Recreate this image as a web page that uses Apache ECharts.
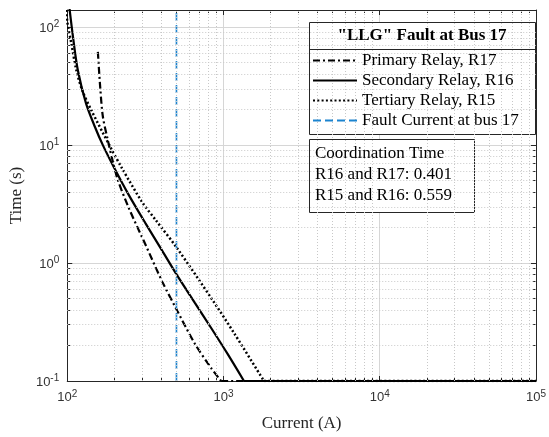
<!DOCTYPE html>
<html>
<head>
<meta charset="utf-8">
<script src="https://cdn.jsdelivr.net/npm/echarts@6/dist/echarts.min.js"></script>
<style>
  html, body { margin: 0; padding: 0; background: #fff; }
  #main { width: 549px; height: 437px; }
</style>
</head>
<body>
<div id="main"></div>
<script>
// relay curves (current in A, time in s)
var primaryCurrent   = [157, 162.5, 169, 181.6, 195.5, 210, 249, 317, 404, 498, 656, 836, 966];
var primaryTime      = [61.8, 31.1, 17.5, 11.1, 7.3, 5.14, 2.88, 1.43, 0.703, 0.41, 0.207, 0.128, 0.1];

var secondaryCurrent = [103, 109, 117, 132, 150, 169, 200, 249, 317, 404, 498, 656, 836, 1067, 1352];
var secondaryTime    = [150, 81.5, 42.9, 22.5, 14.4, 10, 6.4, 3.73, 2.17, 1.28, 0.81, 0.46, 0.28, 0.168, 0.1];

var tertiaryCurrent  = [99, 100, 106.5, 114.5, 125, 142.5, 186, 226, 302, 367, 498, 857, 1175, 1815];
var tertiaryTime     = [140, 112, 71.6, 42.9, 29, 19.8, 10, 6.24, 3.28, 2.33, 1.37, 0.479, 0.252, 0.1];

// every relay is clamped at its minimum operating time up to the end of the axis
var minTime = 0.1;
var maxCurrent = 100000;

var faultCurrent = 500;
var faultTimes   = [0.1, 140];

var seriesNames = ['Primary Relay, R17', 'Secondary Relay, R16', 'Tertiary Relay, R15', 'Fault Current at bus 17'];
var legendTitle = '"LLG" Fault at Bus 17';
var coordLabels = ['R16 and R17', 'R15 and R16'];
var coordTimes  = [0.401, 0.559];

var xRange = [100, 100000];
var yRange = [0.1, 140];

// minor grid positions (2..9 of each decade)
function minorValues(lo, hi) {
    var out = [];
    for (var e = Math.floor(Math.log10(lo)); e < Math.log10(hi); e++) {
        for (var m = 2; m <= 9; m++) {
            var v = m * Math.pow(10, e);
            if (v > lo && v < hi) out.push(v);
        }
    }
    return out;
}
var minorX = minorValues(xRange[0], xRange[1]);
var minorY = minorValues(yRange[0], yRange[1]);

function pairs(xs, ys) {
    return xs.map(function (x, i) { return [x, ys[i]]; });
}

var tickFont = 'Liberation Sans, Arial, sans-serif';
var serif = 'Liberation Serif, Times New Roman, serif';
var axisColor = '#262626';

var powRich = {
    b: { fontFamily: tickFont, fontSize: 13, color: '#333', lineHeight: 15, verticalAlign: 'bottom' },
    s: { fontFamily: tickFont, fontSize: 10, color: '#333', lineHeight: 10, verticalAlign: 'top' }
};
function powLabel(v) {
    var e = Math.log10(v);
    var r = Math.round(e);
    if (Math.abs(e - r) > 1e-6) return '';
    return '{b|10}{s|' + r + '}';
}

function mainAxis(range, pos, withLabels) {
    return {
        type: 'log', logBase: 10, min: range[0], max: range[1], position: pos,
        axisLine: { show: true, lineStyle: { color: axisColor, width: 1 } },
        axisTick: { show: true, inside: true, length: 5, lineStyle: { color: axisColor } },
        axisLabel: { show: withLabels, formatter: powLabel, rich: powRich, margin: 8 },
        splitLine: { show: withLabels, lineStyle: { color: '#d6d6d6', width: 1 } }
    };
}
function minorAxis(range, pos, values) {
    return {
        type: 'log', logBase: 10, min: range[0], max: range[1], position: pos,
        axisLine: { show: false },
        axisTick: { show: true, inside: true, length: 3, customValues: values, lineStyle: { color: axisColor } },
        axisLabel: { show: false },
        splitLine: { show: false }
    };
}

var xMain = mainAxis(xRange, 'bottom', true);
xMain.name = 'Current (A)';
xMain.nameLocation = 'middle';
xMain.nameGap = 34;
xMain.nameTextStyle = { fontFamily: serif, fontSize: 17, color: axisColor };

var yMain = mainAxis(yRange, 'left', true);
yMain.name = 'Time (s)';
yMain.nameLocation = 'middle';
yMain.nameGap = 40;
yMain.nameTextStyle = { fontFamily: serif, fontSize: 17, color: axisColor };

var styles = [
    { color: '#000', width: 2.2, type: [7, 3, 2, 3] },
    { color: '#000', width: 2.2, type: 'solid' },
    { color: '#000', width: 2.5, type: [2, 2.3] },
    { color: '#1c84cf', width: 1.6, type: [8, 4] }
];
var curves = [
    pairs(primaryCurrent, primaryTime),
    pairs(secondaryCurrent, secondaryTime),
    pairs(tertiaryCurrent, tertiaryTime)
];

var series = [{
    name: 'minor grid', type: 'line', data: [], z: 1, silent: true,
    markLine: {
        silent: true, symbol: 'none', label: { show: false }, animation: false,
        lineStyle: { color: '#c8c8c8', width: 1, type: [1, 2] },
        data: minorX.map(function (v) { return { xAxis: v }; })
              .concat(minorY.map(function (v) { return { yAxis: v }; }))
    }
}];
curves.forEach(function (pts, i) {
    // curved part
    series.push({
        name: seriesNames[i], type: 'line', symbol: 'none', smooth: 0.3, z: 3,
        data: pts, lineStyle: styles[i], itemStyle: { color: styles[i].color }
    });
    // flat part at the minimum time
    series.push({
        name: seriesNames[i], type: 'line', symbol: 'none', z: 3,
        data: [pts[pts.length - 1], [maxCurrent, minTime]],
        lineStyle: styles[i], itemStyle: { color: styles[i].color }
    });
});
series.push({
    name: seriesNames[3], type: 'line', symbol: 'none', z: 3,
    data: faultTimes.map(function (t) { return [faultCurrent, t]; }),
    lineStyle: styles[3], itemStyle: { color: styles[3].color }
});

var myChart = echarts.init(document.getElementById('main'));

var option = {
    animation: false,
    backgroundColor: '#fff',
    grid: { left: 66, right: 11, top: 10, bottom: 52, containLabel: false },
    xAxis: [xMain, mainAxis(xRange, 'top', false), minorAxis(xRange, 'bottom', minorX), minorAxis(xRange, 'top', minorX)],
    yAxis: [yMain, mainAxis(yRange, 'right', false), minorAxis(yRange, 'left', minorY), minorAxis(yRange, 'right', minorY)],
    legend: {
        data: seriesNames,
        orient: 'vertical',
        left: 312, top: 52,
        itemWidth: 44, itemHeight: 14, itemGap: 3,
        padding: 0,
        selectedMode: false,
        z: 10,
        itemStyle: { opacity: 0 },
        textStyle: { fontFamily: serif, fontSize: 17, color: '#000', lineHeight: 17 }
    },
    graphic: [
        { type: 'rect', z: 5, shape: { x: 309.5, y: 22.5, width: 226, height: 112 },
          style: { fill: '#fff', stroke: axisColor, lineWidth: 1 } },
        { type: 'line', z: 6, shape: { x1: 309.5, y1: 49.5, x2: 535.5, y2: 49.5 },
          style: { stroke: axisColor, lineWidth: 1 } },
        { type: 'text', z: 6,
          style: { text: legendTitle, x: 422, y: 36, align: 'center', verticalAlign: 'middle',
                   font: 'bold 17px ' + serif, fill: '#000' } },
        { type: 'rect', z: 5, shape: { x: 309.5, y: 139.5, width: 165, height: 73 },
          style: { fill: '#fff', stroke: axisColor, lineWidth: 1 } },
        { type: 'text', z: 6,
          style: { text: 'Coordination Time\n' + coordLabels.map(function (l, i) { return l + ': ' + coordTimes[i].toFixed(3); }).join('\n'),
                   x: 315, y: 143, align: 'left', verticalAlign: 'top', lineHeight: 21,
                   font: '17px ' + serif, fill: '#000' } }
    ],
    series: series
};
myChart.setOption(option);
</script>
</body>
</html>
